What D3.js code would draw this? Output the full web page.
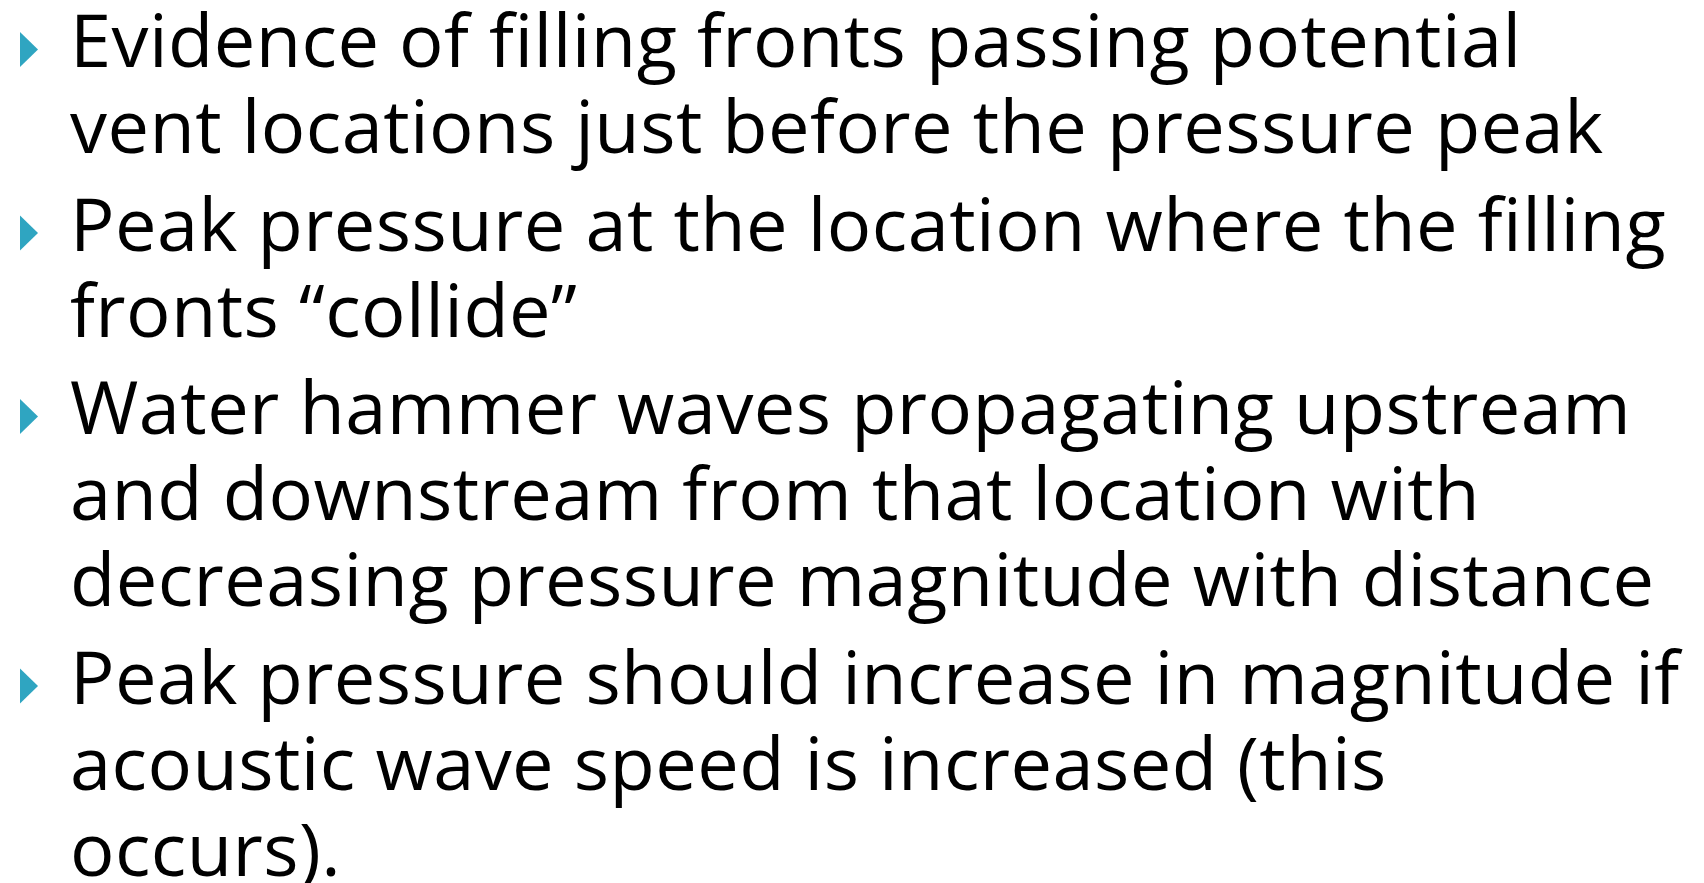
<!DOCTYPE html>
<html>
<head>
<meta charset="utf-8">
<script src="https://cdn.jsdelivr.net/npm/d3@7"></script>
<style>
  html, body { margin: 0; padding: 0; background: #fff; }
  svg { display: block; }
</style>
</head>
<body>
<div id="chart"></div>
<script>
// bullet text, one array per bullet (each entry is one printed line)
var bullet1 = ["Evidence of filling fronts passing potential", "vent locations just before the pressure peak"];
var bullet2 = ["Peak pressure at the location where the filling", "fronts \u201Ccollide\u201D"];
var bullet3 = ["Water hammer waves propagating upstream", "and downstream from that location with", "decreasing pressure magnitude with distance"];
var bullet4 = ["Peak pressure should increase in magnitude if", "acoustic wave speed is increased (this", "occurs)."];
var bullets = [bullet1, bullet2, bullet3, bullet4];

var width = 1704, height = 883;
var fontSize = 74;
var lineHeight = 86;
var paraGap = 11.5;
var textX = 70;
var firstBaseline = 67;
var fitWidth = 1596; // width of the "Peak pressure at the location..." line

var svg = d3.select("#chart").append("svg")
    .attr("width", width)
    .attr("height", height);

// flatten into lines with a paragraph index
var lines = [];
bullets.forEach(function(b, i) {
    b.forEach(function(t, j) { lines.push({ para: i, line: j, text: t }); });
});

// baseline of each line
var y = 0, prev = -1;
lines.forEach(function(d, k) {
    if (k == 0) y = firstBaseline;
    else if (d.para != prev) y += lineHeight + paraGap;
    else y += lineHeight;
    prev = d.para;
    d.y = y;
});

var text = svg.append("g")
    .style("font-family", "'Open Sans', sans-serif")
    .style("font-size", fontSize + "px")
    .attr("fill", "#000")
    .selectAll("text")
    .data(lines)
    .join("text")
    .attr("x", textX)
    .attr("y", d => d.y)
    .text(d => d.text);

// squeeze/stretch letter spacing so the long line matches the slide
var ref = text.filter(d => d.para == 1 && d.line == 0).node();
var natural = ref.getComputedTextLength();
var ls = (fitWidth - natural) / ref.textContent.length;
text.style("letter-spacing", ls + "px");

// triangle bullets at the first line of each paragraph
var heads = lines.filter(d => d.line == 0);
svg.append("g")
    .selectAll("path")
    .data(heads)
    .join("path")
    .attr("fill", "#2fa5c1")
    .attr("d", function(d) {
        var p = d3.path();
        p.moveTo(20, d.y - 35);
        p.lineTo(38, d.y - 17.5);
        p.lineTo(20, d.y);
        p.closePath();
        return p.toString();
    });
</script>
</body>
</html>
